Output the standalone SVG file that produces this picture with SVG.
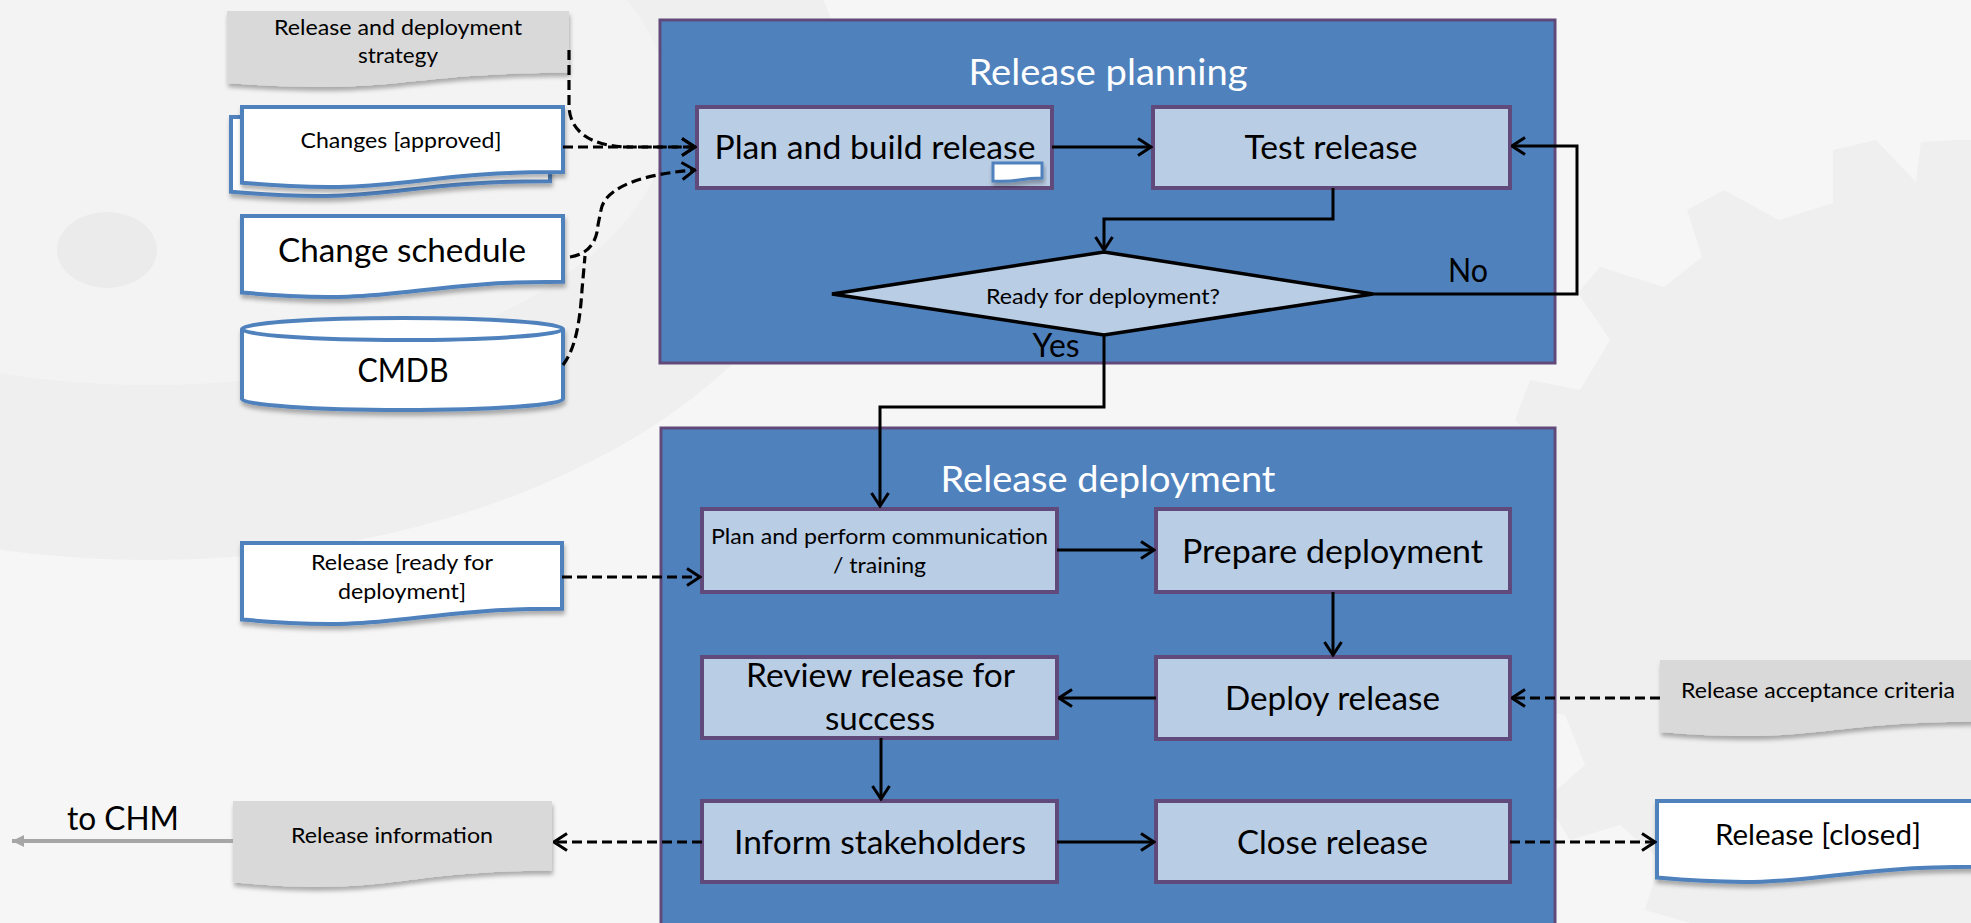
<svg xmlns="http://www.w3.org/2000/svg" width="1971" height="923" viewBox="0 0 1971 923">
<defs>
<style>
.t{font-family:Lato,'Liberation Sans',sans-serif;text-anchor:middle;fill:#000}
.L{font-size:32px}.S{font-size:22px}.M{font-size:29px}
.W{font-size:36px;fill:#fff}
.frame{fill:#4f81bd;stroke:#604a7b;stroke-width:3}
.box{fill:#b9cde5;stroke:#604a7b;stroke-width:4}
.doc{fill:#fff;stroke:#4f81bd;stroke-width:4;filter:url(#sh)}
.gdoc{fill:#d9d9d9;filter:url(#sh)}
.ln{fill:none;stroke:#000;stroke-width:3}
.dl{fill:none;stroke:#000;stroke-width:3.2;stroke-dasharray:10,5}
</style>
<filter id="sh" x="-10%" y="-20%" width="120%" height="150%">
<feDropShadow dx="1" dy="4" stdDeviation="2" flood-color="#000" flood-opacity="0.3"/>
</filter>
<marker id="ar" markerUnits="userSpaceOnUse" viewBox="0 0 16 20" markerWidth="16" markerHeight="20" refX="14.5" refY="10" orient="auto">
<path d="M1.5,1.5 L14.5,10 L1.5,18.5" fill="none" stroke="#000" stroke-width="3"/>
</marker>
<marker id="ga" markerUnits="userSpaceOnUse" viewBox="0 0 16 16" markerWidth="16" markerHeight="16" refX="14" refY="8" orient="auto">
<path d="M2,2 L14,8 L2,14 Z" fill="#a6a6a6"/>
</marker>
</defs>

<g id="background">
<rect x="0" y="0" width="1971" height="923" fill="#f6f6f6"/>
<ellipse cx="150" cy="120" rx="700" ry="440" fill="#efefef"/>
<ellipse cx="150" cy="110" rx="520" ry="275" fill="#f3f3f3"/>
<ellipse cx="107" cy="250" rx="50" ry="38" fill="#ebebeb"/>
<path d="M1960,140 L1921,142 L1916,182 L1876,140 L1833,150 L1833,203 L1779,220 L1724,190 L1687,210 L1702,257 L1664,287 L1600,267 L1578,293 L1610,340 L1580,390 L1530,380 L1515,420 L1555,460 L1550,510 L1500,520 L1500,565 L1550,585 L1555,640 L1505,660 L1515,705 L1565,715 L1585,765 L1545,800 L1570,840 L1620,825 L1660,860 L1645,910 L1690,923 L1971,923 L1971,140 Z" fill="#efefef"/>
</g>

<g id="release-planning">
<rect class="frame" x="660" y="20" width="895" height="343"/>
<text class="t W" x="1108" y="85" textLength="279" lengthAdjust="spacingAndGlyphs">Release planning</text>
</g>
<g id="release-deployment">
<rect class="frame" x="661" y="428" width="894" height="510"/>
<text class="t W" x="1108" y="492" textLength="335" lengthAdjust="spacingAndGlyphs">Release deployment</text>
</g>

<g id="strategy">
<path class="gdoc" d="M227,11 H569 V72.8 C398,72.8 398,96.2 227,82.9 Z"/>
<text class="t S" x="398" y="35" textLength="248" lengthAdjust="spacingAndGlyphs">Release and deployment</text>
<text class="t S" x="398" y="63" textLength="80" lengthAdjust="spacingAndGlyphs">strategy</text>
</g>
<g id="changes-approved">
<path class="doc" d="M231,117 H550 V181.2 C390.5,181.2 390.5,205.6 231,191.7 Z"/>
<path class="doc" d="M242,107 H563 V172 C402.5,172 402.5,196.7 242,182.7 Z"/>
<text class="t S" x="401" y="148" textLength="201" lengthAdjust="spacingAndGlyphs">Changes [approved]</text>
</g>
<g id="change-schedule">
<path class="doc" d="M242,216 H563 V281.8 C402.5,281.8 402.5,306.8 242,292.6 Z"/>
<text class="t L" x="402" y="262" textLength="248" lengthAdjust="spacingAndGlyphs">Change schedule</text>
</g>
<g id="cmdb">
<path class="doc" d="M242,329 A160.5,11 0 0 1 563,329 V399 A160.5,11 0 0 1 242,399 Z"/>
<path d="M242,329 A160.5,11 0 0 0 563,329" fill="none" stroke="#4f81bd" stroke-width="4"/>
<text class="t L" x="403" y="382" textLength="91" lengthAdjust="spacingAndGlyphs">CMDB</text>
</g>
<g id="release-ready">
<path class="doc" d="M242,543 H562 V608.8 C402,608.8 402,633.8 242,619.6 Z"/>
<text class="t S" x="402" y="570" textLength="182" lengthAdjust="spacingAndGlyphs">Release [ready for</text>
<text class="t S" x="402" y="599" textLength="128" lengthAdjust="spacingAndGlyphs">deployment]</text>
</g>
<g id="release-information">
<path class="gdoc" d="M233,801 H552 V870.8 C392.5,870.8 392.5,897.3 233,882.3 Z"/>
<text class="t S" x="392" y="843" textLength="202" lengthAdjust="spacingAndGlyphs">Release information</text>
</g>
<g id="to-chm">
<text class="t L" x="123" y="830" textLength="112" lengthAdjust="spacingAndGlyphs">to CHM</text>
</g>
<g id="acceptance-criteria">
<path class="gdoc" d="M1660,660 H1978 V721.8 C1819,721.8 1819,745.2 1660,731.9 Z"/>
<text class="t S" x="1818" y="698" textLength="274" lengthAdjust="spacingAndGlyphs">Release acceptance criteria</text>
</g>
<g id="release-closed">
<path class="doc" d="M1657,801 H1977 V866.8 C1817,866.8 1817,891.8 1657,877.6 Z"/>
<text class="t M" x="1818" y="845" textLength="206" lengthAdjust="spacingAndGlyphs">Release [closed]</text>
</g>

<g id="plan-build">
<rect class="box" x="697" y="107" width="355" height="81"/>
<text class="t L" x="875" y="159" textLength="321" lengthAdjust="spacingAndGlyphs">Plan and build release</text>
<path d="M993,163 H1042 V178 C1017,178 1017,183 993,181 Z" fill="#fff" stroke="#4f81bd" stroke-width="3" filter="url(#sh)"/>
</g>
<g id="test-release">
<rect class="box" x="1153" y="107" width="357" height="81"/>
<text class="t L" x="1331" y="159" textLength="173" lengthAdjust="spacingAndGlyphs">Test release</text>
</g>
<g id="ready-decision">
<path d="M1104,252 L1373,294 L1104,335 L832,294 Z" fill="#b9cde5" stroke="#000" stroke-width="3.5" stroke-linejoin="miter"/>
<text class="t S" x="1103" y="304" textLength="234" lengthAdjust="spacingAndGlyphs">Ready for deployment?</text>
</g>
<g id="plan-communication">
<rect class="box" x="702" y="509" width="355" height="83"/>
<text class="t S" x="879.5" y="544" textLength="337" lengthAdjust="spacingAndGlyphs">Plan and perform communication</text>
<text class="t S" x="879.5" y="573" textLength="93" lengthAdjust="spacingAndGlyphs">/ training</text>
</g>
<g id="prepare-deployment">
<rect class="box" x="1156" y="509" width="354" height="83"/>
<text class="t L" x="1332.5" y="563" textLength="301" lengthAdjust="spacingAndGlyphs">Prepare deployment</text>
</g>
<g id="review-release">
<rect class="box" x="702" y="657" width="355" height="81"/>
<text class="t L" x="880.5" y="687" textLength="269" lengthAdjust="spacingAndGlyphs">Review release for</text>
<text class="t L" x="880" y="730" textLength="110" lengthAdjust="spacingAndGlyphs">success</text>
</g>
<g id="deploy-release">
<rect class="box" x="1156" y="657" width="354" height="82"/>
<text class="t L" x="1332.5" y="710" textLength="215" lengthAdjust="spacingAndGlyphs">Deploy release</text>
</g>
<g id="inform-stakeholders">
<rect class="box" x="702" y="801" width="355" height="81"/>
<text class="t L" x="880" y="854" textLength="292" lengthAdjust="spacingAndGlyphs">Inform stakeholders</text>
</g>
<g id="close-release">
<rect class="box" x="1156" y="801" width="354" height="81"/>
<text class="t L" x="1332.5" y="854" textLength="191" lengthAdjust="spacingAndGlyphs">Close release</text>
</g>

<g id="connectors">
<path class="ln" d="M1052,147 H1151" marker-end="url(#ar)"/>
<path class="ln" d="M1333,188 V219 H1104 V250" marker-end="url(#ar)"/>
<path class="ln" d="M1373,294 H1577 V146 H1512" marker-end="url(#ar)"/>
<path class="ln" d="M1104,335 V407 H880 V506" marker-end="url(#ar)"/>
<path class="ln" d="M1057,550 H1154" marker-end="url(#ar)"/>
<path class="ln" d="M1333,592 V655" marker-end="url(#ar)"/>
<path class="ln" d="M1156,698 H1059" marker-end="url(#ar)"/>
<path class="ln" d="M881,738 V799" marker-end="url(#ar)"/>
<path class="ln" d="M1057,842 H1154" marker-end="url(#ar)"/>
<path class="dl" d="M569,50 V105 C569,132 592,147 630,147 H695" marker-end="url(#ar)"/>
<path class="dl" d="M563,147 H695" marker-end="url(#ar)"/>
<path class="dl" d="M570,257 C590,254 597,240 598,225 L601,210 C604,192 630,175 695,170" marker-end="url(#ar)"/>
<path class="dl" d="M563,365 C576,348 580,320 582,290 L585,256"/>
<path class="dl" d="M562,577 H700" marker-end="url(#ar)"/>
<path class="dl" d="M702,842 H554" marker-end="url(#ar)"/>
<path class="dl" d="M1660,698 H1512" marker-end="url(#ar)"/>
<path class="dl" d="M1510,842 H1655" marker-end="url(#ar)"/>
<path d="M233,841 H12" fill="none" stroke="#a6a6a6" stroke-width="4" marker-end="url(#ga)"/>
<text class="t L" x="1056" y="357" textLength="47" lengthAdjust="spacingAndGlyphs">Yes</text>
<text class="t L" x="1468" y="282" textLength="40" lengthAdjust="spacingAndGlyphs">No</text>
</g>
</svg>
